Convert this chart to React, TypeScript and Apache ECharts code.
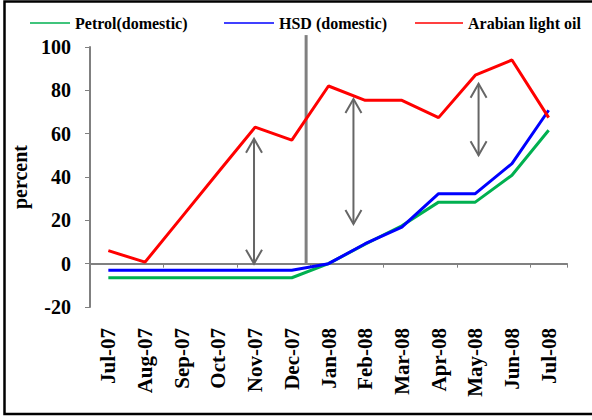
import React, { useEffect, useRef } from "react";
import * as echarts from "echarts";

// Monthly price change, percent
const categories = [
  "Jul-07", "Aug-07", "Sep-07", "Oct-07", "Nov-07", "Dec-07",
  "Jan-08", "Feb-08", "Mar-08", "Apr-08", "May-08", "Jun-08", "Jul-08",
];
const petrolDomestic = [-6.5, -6.5, -6.5, -6.5, -6.5, -6.5, 0, 9, 17.5, 28.4, 28.4, 40.8, 61.6];
const hsdDomestic = [-3, -3, -3, -3, -3, -3, 0, 9.2, 16.9, 32.3, 32.3, 46.2, 70.8];
const arabianLight = [6, 0.7, 21.5, 42.3, 63, 57, 82, 75.4, 75.4, 67.4, 87, 94, 67.4];

const yTicks = { min: -20, max: 100, step: 20 };

// Gap arrows (position in category units along the axis, 0..13)
const arrowPos = [4.47, 7.18, 10.59];
const arrowLow = [0, 18.3, 50];
const arrowHigh = [57.7, 76, 83];

// Divider between 2007 and 2008
const dividerPos = [5.89];
const dividerLow = [0];
const dividerHigh = [105.5];

const FONT = '"Liberation Serif", "Times New Roman", serif';
const GREY = "#808080";

export default function App() {
  const ref = useRef<HTMLDivElement>(null);

  useEffect(() => {
    if (!ref.current) return;
    const chart = echarts.init(ref.current, undefined, { renderer: "svg" });

    const legendText = { fontFamily: FONT, fontWeight: "bold" as const, fontSize: 16, color: "#000" };
    const legendBase = {
      top: 10,
      icon: "rect",
      itemHeight: 1.5,
      textStyle: legendText,
      selectedMode: false,
    };

    const arrowRender = (params: any, api: any) => {
      const x = api.value(0);
      const top = api.coord([x, api.value(2)]);
      const bot = api.coord([x, api.value(1)]);
      const hw = 8;
      const hh = 14;
      const st = { stroke: "#666", lineWidth: 2, fill: "none" };
      return {
        type: "group",
        children: [
          { type: "line", shape: { x1: top[0], y1: top[1], x2: bot[0], y2: bot[1] }, style: st },
          {
            type: "polyline",
            shape: { points: [[top[0] - hw, top[1] + hh], [top[0], top[1]], [top[0] + hw, top[1] + hh]] },
            style: st,
          },
          {
            type: "polyline",
            shape: { points: [[bot[0] - hw, bot[1] - hh], [bot[0], bot[1]], [bot[0] + hw, bot[1] - hh]] },
            style: st,
          },
        ],
      };
    };

    const dividerRender = (params: any, api: any) => {
      const x = api.value(0);
      const top = api.coord([x, api.value(2)]);
      const bot = api.coord([x, api.value(1)]);
      return {
        type: "line",
        shape: { x1: top[0], y1: top[1], x2: bot[0], y2: bot[1] },
        style: { stroke: GREY, lineWidth: 3 },
      };
    };

    chart.setOption({
      animation: false,
      backgroundColor: "#fff",
      textStyle: { fontFamily: FONT },
      legend: [
        { ...legendBase, left: 25, itemWidth: 40, data: ["Petrol(domestic)"] },
        { ...legendBase, left: 219, itemWidth: 50, data: ["HSD (domestic)"] },
        { ...legendBase, left: 410, itemWidth: 48, data: ["Arabian light oil"] },
      ],
      grid: { left: 90, right: 25, top: 47, bottom: 113 },
      xAxis: [
        {
          type: "category",
          data: categories,
          position: "top",
          boundaryGap: true,
          axisLine: { show: true, onZero: true, lineStyle: { color: GREY, width: 2 } },
          axisTick: { show: true, inside: true, length: 4, lineStyle: { color: GREY, width: 1 } },
          axisLabel: { show: false },
          splitLine: { show: false },
        },
        {
          type: "category",
          data: categories,
          position: "bottom",
          boundaryGap: true,
          axisLine: { show: false, onZero: false },
          axisTick: { show: false },
          axisLabel: {
            rotate: 90,
            margin: 21,
            interval: 0,
            fontFamily: FONT,
            fontWeight: "bold",
            fontSize: 21,
            color: "#000",
          },
          splitLine: { show: false },
        },
        { type: "value", min: 0, max: categories.length, show: false },
      ],
      yAxis: {
        type: "value",
        min: yTicks.min,
        max: yTicks.max,
        interval: yTicks.step,
        name: "percent",
        nameLocation: "middle",
        nameGap: 56,
        nameRotate: 90,
        nameTextStyle: { fontFamily: FONT, fontWeight: "bold", fontSize: 20, color: "#000" },
        axisLine: { show: true, lineStyle: { color: GREY, width: 2 } },
        axisTick: { show: true, length: 5, lineStyle: { color: GREY } },
        axisLabel: { margin: 19, fontFamily: FONT, fontWeight: "bold", fontSize: 20, color: "#000" },
        splitLine: { show: false },
      },
      series: [
        {
          name: "Petrol(domestic)",
          type: "line",
          data: petrolDomestic,
          symbol: "none",
          color: "#00B050",
          lineStyle: { width: 3, color: "#00B050" },
        },
        {
          name: "HSD (domestic)",
          type: "line",
          data: hsdDomestic,
          symbol: "none",
          color: "#0000FF",
          lineStyle: { width: 3, color: "#0000FF" },
        },
        {
          name: "Arabian light oil",
          type: "line",
          data: arabianLight,
          symbol: "none",
          color: "#FF0000",
          lineStyle: { width: 3, color: "#FF0000" },
        },
        {
          type: "custom",
          xAxisIndex: 2,
          silent: true,
          clip: false,
          renderItem: dividerRender,
          encode: { x: 0, y: [1, 2] },
          data: dividerPos.map((p, i) => [p, dividerLow[i], dividerHigh[i]]),
          z: 1,
        },
        {
          type: "custom",
          xAxisIndex: 2,
          silent: true,
          clip: false,
          renderItem: arrowRender,
          encode: { x: 0, y: [1, 2] },
          data: arrowPos.map((p, i) => [p, arrowLow[i], arrowHigh[i]]),
        },
      ],
      graphic: [
        {
          type: "rect",
          silent: true,
          shape: { x: 4.5, y: 1.5, width: 700, height: 412.5 },
          style: { fill: "none", stroke: "#000", lineWidth: 2.5 },
        },
      ],
    });

    return () => chart.dispose();
  }, []);

  return (
    <div
      ref={ref}
      style={{ position: "fixed", left: 0, top: 0, width: 592, height: 420, background: "#fff" }}
    />
  );
}
